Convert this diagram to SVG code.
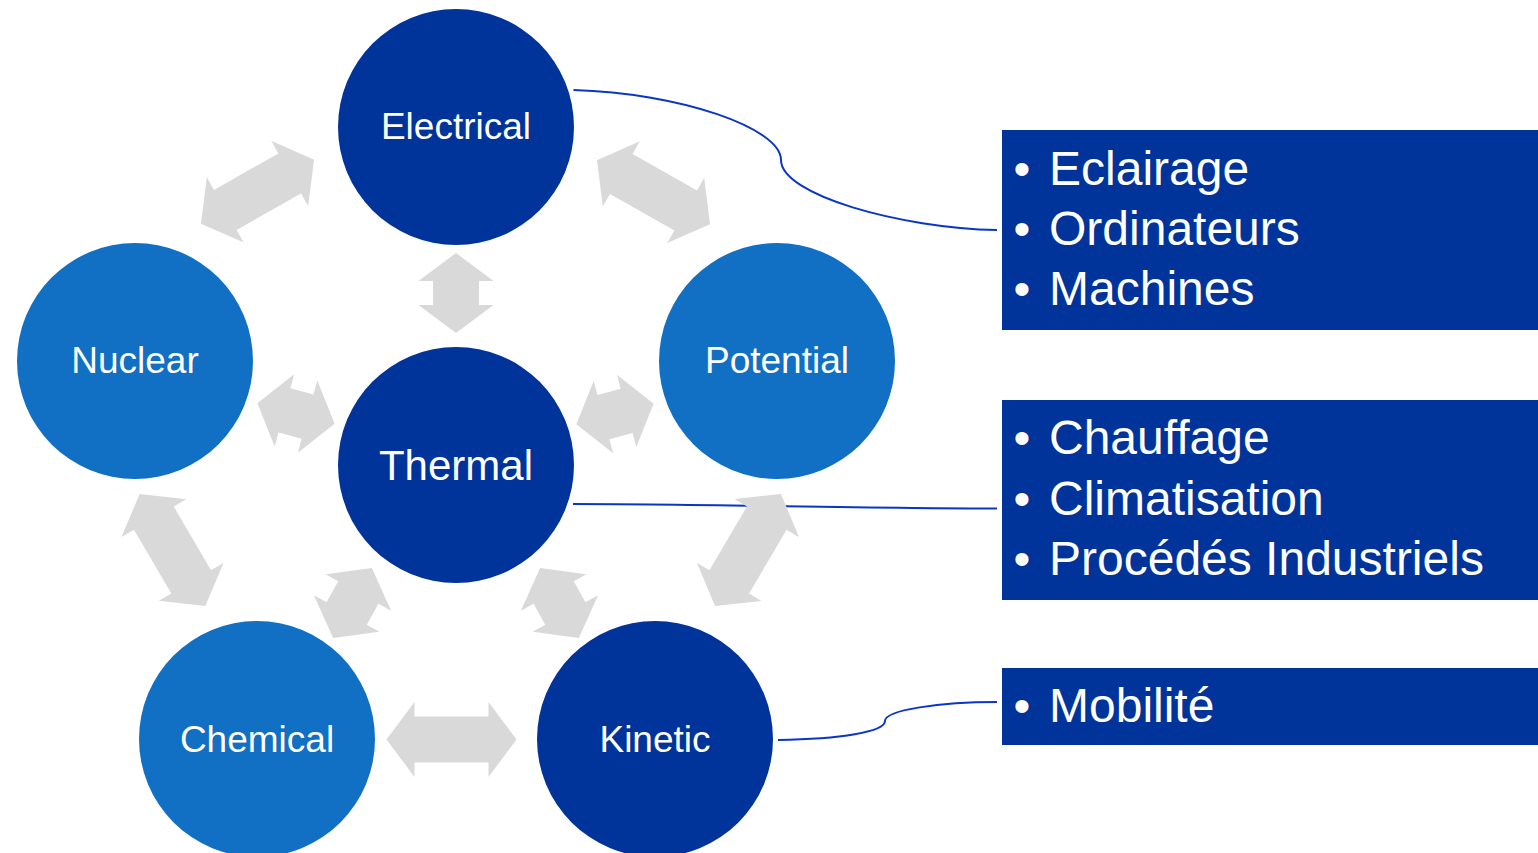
<svg xmlns="http://www.w3.org/2000/svg" xmlns:xlink="http://www.w3.org/1999/xlink" width="1538" height="853" viewBox="0 0 1538 853">
  <style>
    .dark { fill: #00349a; }
    .light { fill: #1170c4; }
    .arr { fill: #d9d9d9; }
    .lead { fill: none; stroke: #0a36c8; stroke-width: 2; }
    .lbl { font-family: "Liberation Sans", Arial, sans-serif; font-size: 37px; fill: #ffffff; text-anchor: middle; }
    .box { fill: #00349a; }
    .item { font-family: "Liberation Sans", Arial, sans-serif; font-size: 48px; fill: #ffffff; }
    .bul { font-family: "Liberation Sans", Arial, sans-serif; font-size: 48px; fill: #ffffff; text-anchor: middle; }
  </style>
  <defs>
    <path id="arrowShort" d="M-40,0 L-12,-37.5 L-12,-23 L12,-23 L12,-37.5 L40,0 L12,37.5 L12,23 L-12,23 L-12,37.5 Z"/>
    <path id="arrowLong" d="M-65,0 L-37,-37.5 L-37,-23 L37,-23 L37,-37.5 L65,0 L37,37.5 L37,23 L-37,23 L-37,37.5 Z"/>
  </defs>
  <rect width="1538" height="853" fill="#ffffff"/>

  <g id="leader-lines">
    <path class="lead" d="M573.5,90 C680,93 781,128 781,160 C781,195 900,228 997,230"/>
    <path class="lead" d="M573,504 C700,504 870,508.5 997,508.5"/>
    <path class="lead" d="M778,740 C840,739 885,732 885,721 C885,710 940,702 997,702"/>
  </g>

  <g id="connectors">
    <use xlink:href="#arrowShort" href="#arrowShort" class="arr" transform="translate(456,293) rotate(90)"/>
    <use xlink:href="#arrowLong" href="#arrowLong" class="arr" transform="translate(257.5,191.7) rotate(-29.5)"/>
    <use xlink:href="#arrowLong" href="#arrowLong" class="arr" transform="translate(653.5,192.2) rotate(29.5)"/>
    <use xlink:href="#arrowShort" href="#arrowShort" class="arr" transform="translate(296,413.5) rotate(15)"/>
    <use xlink:href="#arrowShort" href="#arrowShort" class="arr" transform="translate(615,414) rotate(-15)"/>
    <use xlink:href="#arrowLong" href="#arrowLong" class="arr" transform="translate(172.5,550) rotate(59.7)"/>
    <use xlink:href="#arrowLong" href="#arrowLong" class="arr" transform="translate(748,550) rotate(-59.5)"/>
    <use xlink:href="#arrowShort" href="#arrowShort" class="arr" transform="translate(352.5,603) rotate(-61)"/>
    <use xlink:href="#arrowShort" href="#arrowShort" class="arr" transform="translate(559.5,603) rotate(61)"/>
    <use xlink:href="#arrowLong" href="#arrowLong" class="arr" transform="translate(451.5,739.5)"/>
  </g>

  <g id="node-electrical">
    <circle class="dark" cx="456" cy="127" r="118"/>
    <text class="lbl" x="456" y="139">Electrical</text>
  </g>
  <g id="node-nuclear">
    <circle class="light" cx="135" cy="361" r="118"/>
    <text class="lbl" x="135" y="373">Nuclear</text>
  </g>
  <g id="node-potential">
    <circle class="light" cx="777" cy="361" r="118"/>
    <text class="lbl" x="777" y="373">Potential</text>
  </g>
  <g id="node-thermal">
    <circle class="dark" cx="456" cy="465" r="118"/>
    <text class="lbl" x="456" y="480" style="font-size:42px">Thermal</text>
  </g>
  <g id="node-chemical">
    <circle class="light" cx="257" cy="739" r="118"/>
    <text class="lbl" x="257" y="752">Chemical</text>
  </g>
  <g id="node-kinetic">
    <circle class="dark" cx="655" cy="739" r="118"/>
    <text class="lbl" x="655" y="752">Kinetic</text>
  </g>

  <g id="box-electrical-uses">
    <rect class="box" x="1002" y="130" width="536" height="200"/>
    <text class="bul" x="1022" y="185">•</text>
    <text class="item" x="1049" y="185">Eclairage</text>
    <text class="bul" x="1022" y="245">•</text>
    <text class="item" x="1049" y="245">Ordinateurs</text>
    <text class="bul" x="1022" y="305">•</text>
    <text class="item" x="1049" y="305">Machines</text>
  </g>
  <g id="box-thermal-uses">
    <rect class="box" x="1002" y="400" width="536" height="200"/>
    <text class="bul" x="1022" y="454">•</text>
    <text class="item" x="1049" y="454">Chauffage</text>
    <text class="bul" x="1022" y="515">•</text>
    <text class="item" x="1049" y="515">Climatisation</text>
    <text class="bul" x="1022" y="575">•</text>
    <text class="item" x="1049" y="575">Procédés Industriels</text>
  </g>
  <g id="box-kinetic-uses">
    <rect class="box" x="1002" y="668" width="536" height="77"/>
    <text class="bul" x="1022" y="722">•</text>
    <text class="item" x="1049" y="722">Mobilité</text>
  </g>
</svg>
